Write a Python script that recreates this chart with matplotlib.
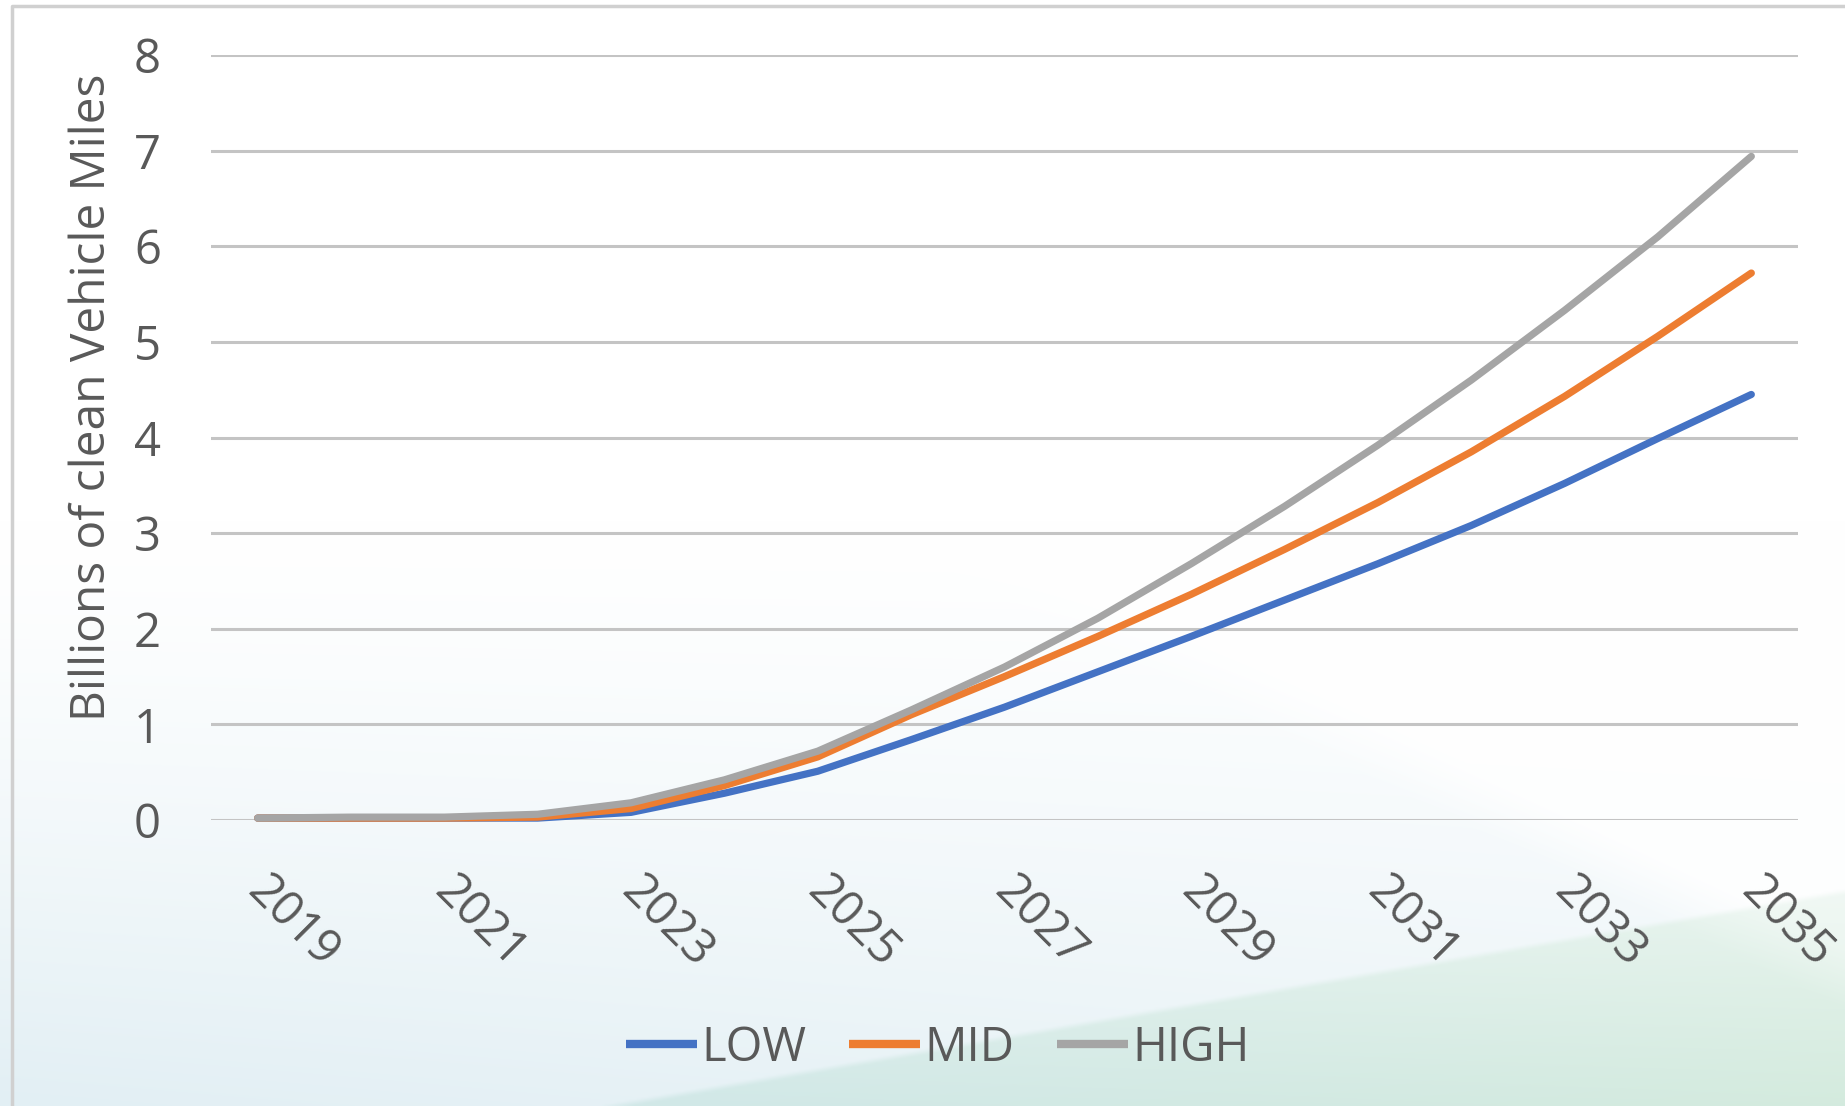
#!/usr/bin/env python3
import matplotlib
matplotlib.use('Agg')
import matplotlib.pyplot as plt
import matplotlib.transforms as mtransforms
import numpy as np

# Dati (miliardi di miglia)
years = list(range(2019, 2036))
low = [0.02, 0.02, 0.02, 0.02, 0.08, 0.28, 0.51, 0.84, 1.18, 1.55,
       1.92, 2.30, 2.68, 3.08, 3.52, 3.99, 4.45]
mid = [0.02, 0.02, 0.02, 0.03, 0.12, 0.36, 0.66, 1.10, 1.50, 1.92,
       2.36, 2.83, 3.32, 3.85, 4.43, 5.06, 5.72]
high = [0.02, 0.03, 0.03, 0.06, 0.18, 0.42, 0.72, 1.15, 1.60, 2.11,
        2.68, 3.28, 3.92, 4.60, 5.33, 6.10, 6.94]
series_names = ['LOW', 'MID', 'HIGH']
colors = ['#4472C4', '#ED7D31', '#A5A5A5']
yticks = list(range(0, 9))

W, H = 1845, 1106
TXT = '#595959'
plt.rcParams['font.family'] = ['Open Sans', 'DejaVu Sans']

fig = plt.figure(figsize=(W / 100, H / 100), dpi=100)

# Sfondo sfumato con le due bande diagonali
bg = fig.add_axes([0, 0, 1, 1], zorder=-10)
h, w = H // 2, W // 2
yy, xx = np.mgrid[0:h, 0:w] * 2.0
t = np.clip((yy - 520) / 586, 0, 1) ** 1.3 * (1 - 0.35 * xx / W)
t = t[..., None]
white = np.array([1.0, 1.0, 1.0])
blue = np.array([0.886, 0.937, 0.957])
img = white * (1 - t) + blue * t
lineA = 659 + 0.49 * (xx - 1130)
aboveA = np.clip((lineA - yy) / 60, 0, 1)[..., None] * 0.85
img = img * (1 - aboveA) + white * aboveA
lineB = 1106 - 0.174 * (xx - 588)
belowB = np.clip((yy - lineB) / 6, 0, 1)[..., None]
u = np.clip((xx - 600) / 1245, 0, 1)[..., None]
teal = np.array([0.82, 0.91, 0.91]) * (1 - u) + np.array([0.83, 0.92, 0.87]) * u
g = np.clip(0.5 + 0.5 * (yy - 880) / 226, 0, 1)[..., None]
green = white * (1 - g) + teal * g
green = green * (1 - 0.4 * aboveA) + white * 0.4 * aboveA
img = img * (1 - belowB) + green * belowB
bg.imshow(img, extent=[0, W, H, 0], aspect='auto', interpolation='bilinear')
bg.plot([12, 12, W], [H, 6, 6], color='#d0d0d0', lw=2.5)
bg.set_xlim(0, W)
bg.set_ylim(H, 0)
bg.axis('off')

# Grafico principale
ax = fig.add_axes([211 / W, 1 - 820 / H, (1798 - 211) / W, (820 - 55) / H])
ax.patch.set_alpha(0)
x = np.arange(len(years))
for name, vals, c in zip(series_names, [low, mid, high], colors):
    ax.plot(x, vals, color=c, lw=5.2, label=name, clip_on=False,
            solid_capstyle='round', solid_joinstyle='round', zorder=3)

ax.set_xlim(-0.5, len(years) - 0.5)
ax.set_ylim(0, 8)
ax.set_yticks(yticks)
ax.set_yticklabels([str(v) for v in yticks])
ax.yaxis.grid(True, color='#c4c4c4', lw=2.2)
ax.set_axisbelow(True)
for s in ax.spines.values():
    s.set_visible(False)

ax.set_xticks(x[::2])
ax.set_xticklabels([str(y) for y in years[::2]], rotation=-45,
                   ha='left', va='top', rotation_mode='anchor')
ax.tick_params(axis='both', length=0, labelsize=34, colors=TXT)
ax.tick_params(axis='y', pad=36)
ax.tick_params(axis='x', pad=34)
shift = mtransforms.ScaledTranslation(14 / 100, 0, fig.dpi_scale_trans)
for lab in ax.get_xticklabels():
    lab.set_transform(lab.get_transform() + shift)

fig.text(92 / W, 1 - 397 / H, 'Billions of clean Vehicle Miles', rotation=90,
         ha='center', va='center', fontsize=34.5, color=TXT)

leg = fig.legend(loc='center', bbox_to_anchor=(938 / W, 1 - 1048 / H), ncol=3,
                 frameon=False, fontsize=34, handlelength=1.5,
                 handletextpad=0.1, columnspacing=0.9, labelcolor=TXT)
for ln in leg.get_lines():
    ln.set_linewidth(6)
    ln.set_solid_capstyle('butt')

fig.savefig('out.png', dpi=100)
